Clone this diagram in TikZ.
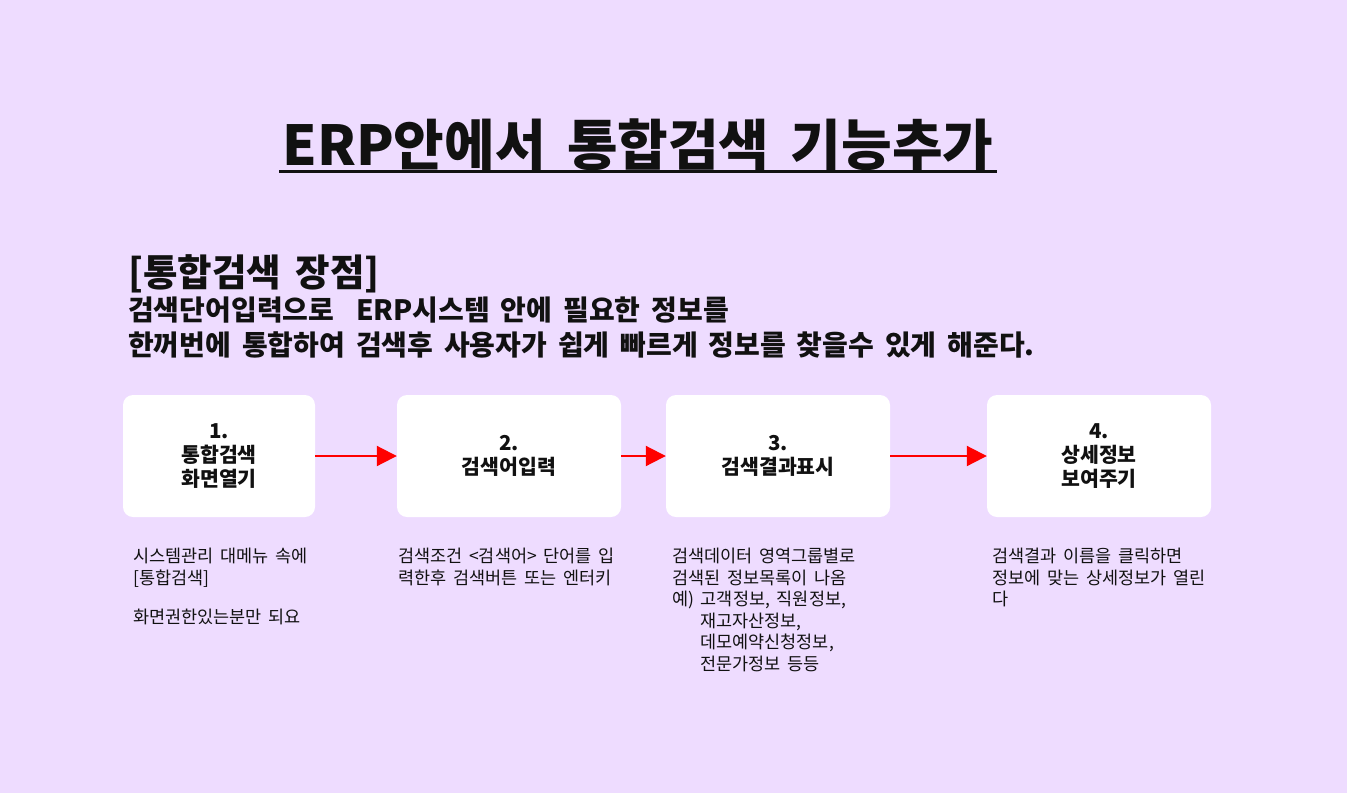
\documentclass[tikz,border=0pt]{standalone}
\usepackage{fontspec}
\setmainfont{Noto Sans CJK KR}[WordSpace=1.7]
\usepackage{tikz}
\usetikzlibrary{arrows.meta, calc}
\definecolor{bgpurple}{RGB}{238,220,255}
\definecolor{inkblack}{RGB}{17,17,17}
\tikzset{
    stepbox/.style={fill=white, rounded corners=10pt, minimum height=122pt, align=center, inner sep=0pt,
        text=inkblack, font=\bfseries\fontsize{20.5}{24}\selectfont},
    flowarrow/.style={red, line width=2pt, -{Triangle[length=20pt, width=20pt]}},
    note/.style={anchor=north west, inner sep=0pt, align=left, text=inkblack, font=\fontsize{17.5}{21.5}\selectfont}
}
\begin{document}
\begin{tikzpicture}[x=1pt, y=-1pt]
        \fill[bgpurple] (0,0) rectangle (1347,793);
        \useasboundingbox (0,0) rectangle (1347,793);

        \node[anchor=base, inner sep=0pt, text=inkblack, font=\bfseries\fontsize{55}{60}\selectfont] (title) at (638,165) {ERP안에서 통합검색 기능추가};
        \draw[inkblack, line width=3pt] (279,171) -- (997,171);

        \node[anchor=base west, inner sep=0pt, text=inkblack, font=\bfseries\fontsize{37.5}{40}\selectfont] (head) at (128,286) {[통합검색 장점]};
        \node[anchor=base west, inner sep=0pt, text=inkblack, font=\bfseries\fontsize{28}{35}\selectfont] (line1) at (128,320) {검색단어입력으로\ \ ERP시스템 안에 필요한 정보를};
        \node[anchor=base west, inner sep=0pt, text=inkblack, font=\bfseries\fontsize{28}{35}\selectfont] (line2) at (128,355) {한꺼번에 통합하여 검색후 사용자가 쉽게 빠르게 정보를 찾을수 있게 해준다.};

        \node[stepbox, minimum width=192pt] (open) at (219,456) {1.\\통합검색\\화면열기};
        \node[stepbox, minimum width=224pt] (input) at (509,456) {2.\\검색어입력};
        \node[stepbox, minimum width=224pt] (result) at (778,456) {3.\\검색결과표시};
        \node[stepbox, minimum width=224pt] (detail) at (1099,456) {4.\\상세정보\\보여주기};

        \foreach \a/\b in {open/input, input/result, result/detail} {
            \draw[flowarrow] (\a.east) -- (\b.west);
        }

        \node[note] (opennote) at (133,548) {시스템관리 대메뉴 속에\\{}[통합검색]\\[18pt]화면권한있는분만 되요};
        \node[note] (inputnote) at (398,548) {검색조건 <검색어> 단어를 입\\력한후 검색버튼 또는 엔터키};
        \node[note] (resultnote) at (672,548) {검색데이터 영역그룹별로\\검색된 정보목록이 나옴\\예) 고객정보, 직원정보,\\\hspace*{28pt}재고자산정보,\\\hspace*{28pt}데모예약신청정보,\\\hspace*{28pt}전문가정보 등등};
        \node[note] (detailnote) at (992,548) {검색결과 이름을 클릭하면\\정보에 맞는 상세정보가 열린\\다};
\end{tikzpicture}
\end{document}
